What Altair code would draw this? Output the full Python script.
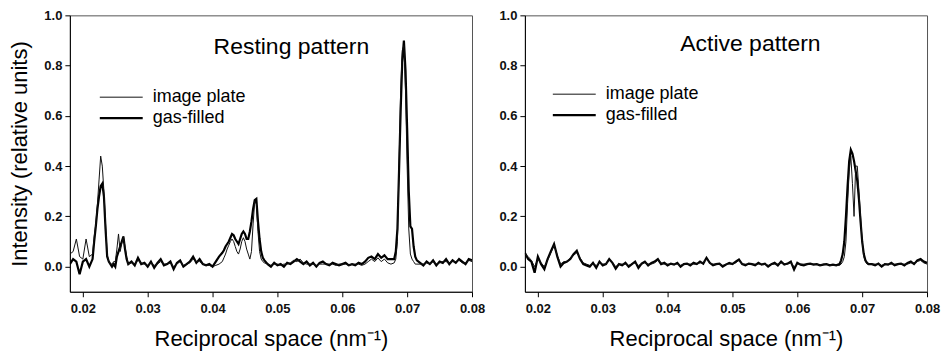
import altair as alt
import pandas as pd
import numpy as np

# ---------------- data ----------------
# Each segment: (start x, step, gas-filled values, image-plate values)
LEFT_SEGMENTS = [
    (0.018, 0.0005,
     [0.01, 0.03, 0.02, -0.03, 0.02, 0.03, 0.00],
     [0.05, 0.06, 0.11, 0.04, 0.03, 0.11, 0.04]),
    (0.0215, 0.00025,
     [0.03, 0.10, 0.16, 0.23, 0.28, 0.32, 0.33, 0.28, 0.15, 0.04, 0.02, 0.01,
      0.0, 0.01, 0.0, 0.04, 0.06, 0.08, 0.10, 0.12, 0.07, 0.03, 0.01],
     [0.05, 0.12, 0.17, 0.25, 0.345, 0.44, 0.40, 0.30, 0.17, 0.05, 0.02, 0.01,
      0.01, 0.02, 0.02, 0.07, 0.13, 0.06, 0.09, 0.12, 0.08, 0.04, 0.01]),
    (0.0275, 0.0005,
     [0.02, 0.005, 0.035, 0.01, 0.015, 0.0, 0.02, -0.005, 0.015, 0.03,
      0.005, 0.01, 0.02, -0.01, 0.015, 0.025, 0.0, 0.01, 0.02, 0.04,
      0.015, 0.03, 0.01, 0.005, 0.01, 0.0, 0.02, 0.04],
     [0.015, 0.01, 0.025, 0.015, 0.01, 0.005, 0.015, 0.005, 0.01, 0.02,
      0.01, 0.01, 0.015, 0.0, 0.01, 0.02, 0.005, 0.01, 0.015, 0.03,
      0.02, 0.02, 0.01, 0.005, 0.005, 0.0, 0.005, 0.01]),
    (0.0415, 0.00025,
     [0.055, 0.065, 0.08, 0.09, 0.10, 0.115, 0.13, 0.125, 0.11, 0.10,
      0.09, 0.11, 0.13, 0.14, 0.13, 0.11, 0.11, 0.14, 0.18, 0.23,
      0.265, 0.27, 0.18, 0.11, 0.06, 0.035, 0.025],
     [0.02, 0.035, 0.05, 0.07, 0.085, 0.10, 0.11, 0.10, 0.08, 0.06,
      0.05, 0.07, 0.10, 0.115, 0.10, 0.07, 0.05, 0.03, 0.06, 0.17,
      0.26, 0.25, 0.14, 0.06, 0.03, 0.02, 0.015]),
    (0.0485, 0.0005,
     [0.01, 0.0, 0.015, 0.005, 0.01, 0.0, 0.015, 0.01, 0.02, 0.03,
      0.02, 0.01, 0.02, 0.005, 0.015, 0.0, 0.015, 0.02, 0.01, 0.005,
      0.015, 0.01, 0.005, 0.01, 0.015, 0.005, 0.01, 0.005, 0.015, 0.01,
      0.02, 0.035, 0.04, 0.03, 0.05, 0.035, 0.045, 0.03, 0.03, 0.03],
     [0.01, 0.005, 0.01, 0.01, 0.005, 0.01, 0.01, 0.015, 0.025, 0.02,
      0.03, 0.015, 0.01, 0.01, 0.01, 0.005, 0.01, 0.01, 0.01, 0.01,
      0.01, 0.005, 0.01, 0.01, 0.01, 0.005, 0.01, 0.01, 0.01, 0.005,
      0.01, 0.02, 0.03, 0.02, 0.035, 0.02, 0.03, 0.015, 0.01, 0.015]),
    (0.06825, 0.00025,
     [0.06, 0.15, 0.38, 0.62, 0.82, 0.90, 0.78, 0.55, 0.30, 0.16, 0.15, 0.08, 0.04, 0.025],
     [0.03, 0.10, 0.40, 0.70, 0.86, 0.88, 0.70, 0.40, 0.15, 0.05, 0.03, 0.02, 0.01, 0.01]),
    (0.072, 0.0005,
     [0.015, 0.005, 0.02, 0.01, 0.025, 0.005, 0.02, 0.015, 0.03, 0.01,
      0.025, 0.015, 0.03, 0.02, 0.01, 0.03, 0.025],
     [0.01, 0.01, 0.015, 0.01, 0.02, 0.01, 0.015, 0.02, 0.02, 0.015,
      0.02, 0.02, 0.025, 0.015, 0.015, 0.025, 0.02]),
]

RIGHT_SEGMENTS = [
    (0.018, 0.0005,
     [0.055, 0.03, 0.02, -0.024, 0.04, 0.01, -0.01, 0.03, 0.06, 0.09,
      0.04, 0.0, 0.015, 0.02, 0.03, 0.05, 0.063, 0.03, 0.01, 0.005],
     [0.05, 0.04, 0.025, 0.0, 0.03, 0.015, 0.0, 0.025, 0.055, 0.085,
      0.045, 0.01, 0.02, 0.02, 0.035, 0.045, 0.055, 0.035, 0.015, 0.01]),
    (0.028, 0.0005,
     [0.0, 0.015, -0.005, 0.02, 0.005, 0.01, 0.03, 0.015, -0.008, 0.01,
      0.005, 0.015, 0.0, 0.01, 0.02, -0.005, 0.012, 0.02, 0.005, 0.015,
      0.02, 0.03, 0.01, 0.015, 0.005, 0.012, 0.008, 0.015, 0.0, 0.01,
      0.012, 0.005, 0.015, 0.01, 0.02, 0.012, 0.035, 0.015, 0.005, 0.01,
      0.012, 0.0, 0.008, 0.015, 0.01, 0.02, 0.028, 0.01, 0.005, 0.012,
      0.01, 0.005, 0.015, 0.008, 0.012, 0.0, 0.01, 0.015, 0.005, 0.02,
      0.008, 0.012, 0.02, -0.012, 0.015, 0.008, 0.005, 0.01, 0.012, 0.008,
      0.01, 0.005, 0.008, 0.01, 0.005, 0.008, 0.005],
     [0.005, 0.01, 0.005, 0.015, 0.01, 0.01, 0.025, 0.015, 0.0, 0.01,
      0.01, 0.01, 0.005, 0.01, 0.015, 0.005, 0.01, 0.015, 0.01, 0.01,
      0.015, 0.025, 0.015, 0.01, 0.01, 0.01, 0.01, 0.01, 0.005, 0.01,
      0.01, 0.01, 0.01, 0.01, 0.015, 0.015, 0.03, 0.015, 0.01, 0.01,
      0.01, 0.005, 0.01, 0.01, 0.01, 0.015, 0.025, 0.01, 0.01, 0.01,
      0.01, 0.01, 0.01, 0.01, 0.01, 0.005, 0.01, 0.01, 0.01, 0.015,
      0.01, 0.01, 0.015, 0.0, 0.01, 0.01, 0.01, 0.01, 0.01, 0.01,
      0.01, 0.005, 0.01, 0.01, 0.005, 0.005, 0.005]),
    (0.0665, 0.00025,
     [0.01, 0.025, 0.05, 0.10, 0.20, 0.32, 0.42, 0.465, 0.45, 0.42,
      0.38, 0.34, 0.27, 0.18, 0.10, 0.05, 0.025, 0.015, 0.01],
     [0.005, 0.01, 0.02, 0.04, 0.10, 0.25, 0.38, 0.44, 0.33, 0.20,
      0.40, 0.40, 0.30, 0.20, 0.10, 0.04, 0.02, 0.01, 0.01]),
    (0.0715, 0.0005,
     [0.01, 0.005, 0.012, 0.0, 0.01, 0.008, 0.015, 0.005, 0.01, 0.012,
      0.005, 0.015, 0.02, 0.01, 0.025, 0.03, 0.02, 0.015],
     [0.01, 0.01, 0.01, 0.005, 0.01, 0.01, 0.01, 0.01, 0.01, 0.01,
      0.01, 0.01, 0.015, 0.015, 0.02, 0.025, 0.015, 0.01]),
]

X_TICKS = [0.02, 0.03, 0.04, 0.05, 0.06, 0.07, 0.08]
Y_TICKS = [0.0, 0.2, 0.4, 0.6, 0.8, 1.0]
SERIES = ["image plate", "gas-filled"]
PANEL_TITLES = ["Resting pattern", "Active pattern"]

FONT = "Liberation Sans"
W, H = 403, 277


def to_frame(segments):
    rows = []
    for start, step, gas, img in segments:
        n = min(len(gas), len(img))
        for i in range(n):
            x = round(start + i * step, 6)
            rows.append({"x": x, "y": gas[i], "series": "gas-filled"})
            rows.append({"x": x, "y": img[i], "series": "image plate"})
    return pd.DataFrame(rows)


def panel(segments, title_text, title_pos, legend_pos, y_title):
    df = to_frame(segments)
    xenc = alt.X("x:Q",
                 scale=alt.Scale(domain=[0.018, 0.08], nice=False, zero=False),
                 axis=alt.Axis(values=X_TICKS, format=".2f", labelFlush=False,
                               title="Reciprocal space (nm\u207b\u00b9)",
                               titlePadding=13, labelPadding=6))
    yenc = alt.Y("y:Q",
                 scale=alt.Scale(domain=[-0.1, 1.0], nice=False, zero=False),
                 axis=alt.Axis(values=Y_TICKS, format=".1f",
                               title=y_title if y_title else None,
                               titlePadding=12, labelPadding=3))
    base = alt.Chart(df)
    thick = base.transform_filter(alt.datum.series == "gas-filled").mark_line(
        color="black", strokeWidth=2.2, clip=True
    ).encode(x=xenc, y=yenc, order="x:Q")
    thin = base.transform_filter(alt.datum.series == "image plate").mark_line(
        color="#111111", strokeWidth=1.0, clip=True
    ).encode(x="x:Q", y="y:Q", order="x:Q")

    tx, ty = title_pos
    label = alt.Chart(pd.DataFrame({"t": [title_text]})).mark_text(
        font=FONT, fontSize=23, color="black", align="center", baseline="middle"
    ).encode(x=alt.value(tx), y=alt.value(ty), text="t:N")

    lx, ly = legend_pos
    leg_df = pd.DataFrame({"name": SERIES})
    leg_thin = alt.Chart(leg_df).transform_filter(alt.datum.name == SERIES[0]).mark_rule(
        color="#111111", strokeWidth=1.0
    ).encode(x=alt.value(lx), x2=alt.value(lx + 43), y=alt.value(ly))
    leg_thick = alt.Chart(leg_df).transform_filter(alt.datum.name == SERIES[1]).mark_rule(
        color="black", strokeWidth=2.2
    ).encode(x=alt.value(lx), x2=alt.value(lx + 43), y=alt.value(ly + 21))
    leg_t1 = alt.Chart(leg_df).transform_filter(alt.datum.name == SERIES[0]).mark_text(
        font=FONT, fontSize=18, color="black", align="left", baseline="middle"
    ).encode(x=alt.value(lx + 53), y=alt.value(ly), text="name:N")
    leg_t2 = alt.Chart(leg_df).transform_filter(alt.datum.name == SERIES[1]).mark_text(
        font=FONT, fontSize=18, color="black", align="left", baseline="middle"
    ).encode(x=alt.value(lx + 53), y=alt.value(ly + 21), text="name:N")

    return alt.layer(thick, thin, label, leg_thin, leg_thick, leg_t1, leg_t2).properties(
        width=W, height=H
    )


left = panel(LEFT_SEGMENTS, PANEL_TITLES[0], (222, 32), (30, 82),
             "Intensity (relative units)")
right = panel(RIGHT_SEGMENTS, PANEL_TITLES[1], (226, 29), (28, 79), None)

chart = alt.hconcat(left, right, spacing=12).properties(
    padding={"left": 0, "top": 0, "right": 0, "bottom": 0},
    background="white",
).configure_view(stroke="#555555", strokeWidth=1).configure_axis(
    grid=False,
    domainColor="black",
    tickColor="black",
    tickSize=5,
    labelFont=FONT,
    labelFontSize=13,
    labelFontWeight="bold",
    labelColor="#111111",
    titleFont=FONT,
    titleFontSize=22,
    titleFontWeight="normal",
    titleColor="black",
)

chart.save("out.html", embed_options={"renderer": "svg", "actions": False})
